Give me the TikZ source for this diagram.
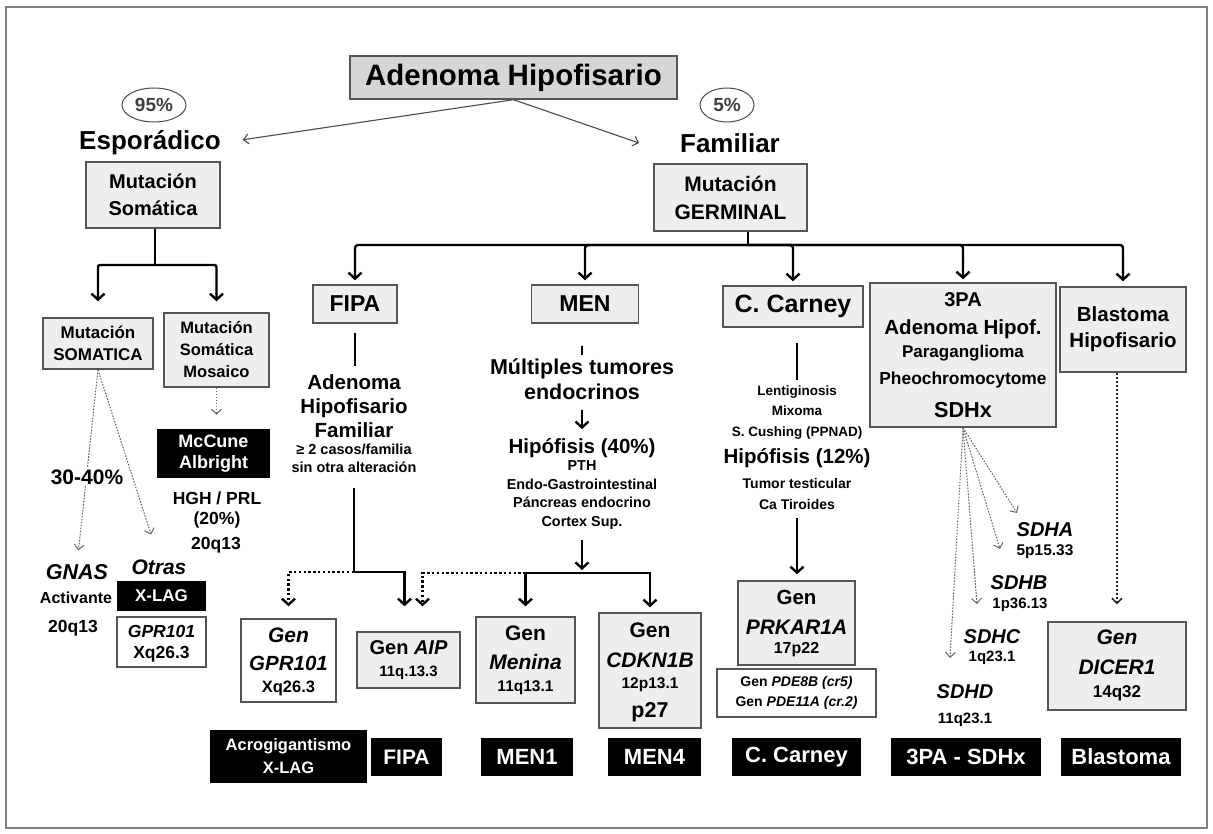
\documentclass[tikz,border=0pt]{standalone}
\usepackage{fontspec}
\setmainfont{Liberation Sans}
\usetikzlibrary{arrows.meta,shapes.geometric}
\newcommand\fsz[1]{\fontsize{#1}{#1}\selectfont}
\newcommand\fsl[2]{\fontsize{#1}{#2}\selectfont}
\definecolor{boxfill}{HTML}{EEEEEE}
\definecolor{titlefill}{HTML}{D6D6D6}
\definecolor{edge}{HTML}{555555}
\tikzset{
 frame/.style={draw=black!50, line width=1.3pt},
 bx/.style={draw=edge, line width=1.4pt, fill=boxfill, inner sep=0pt},
 wbx/.style={draw=edge, line width=1.4pt, fill=white, inner sep=0pt},
 blk/.style={fill=black, text=white, inner sep=0pt, align=center},
 t/.style={inner sep=0pt, align=center},
 oval/.style={ellipse, draw=black!70, line width=1pt, inner sep=0pt, text=black!75},
 ln/.style={line width=2.4pt},
 ar/.style={line width=2.4pt, -{Straight Barb[length=6pt,width=13pt]}},
 dar/.style={line width=2.4pt, dash pattern=on 2.4pt off 2.4pt, -{Straight Barb[length=6pt,width=13pt]}},
 thn/.style={line width=1.1pt, draw=black!70, -{Straight Barb[length=5pt,width=10pt]}},
 dthn/.style={line width=1pt, draw=black!60, dash pattern=on 1.6pt off 1.4pt, -{Straight Barb[length=5pt,width=10pt]}},
 dblk/.style={line width=1.6pt, draw=black!85, dash pattern=on 2pt off 2pt, -{Straight Barb[length=5pt,width=10pt]}},
}
\begin{document}
\begin{tikzpicture}[x=1pt,y=-1pt]
\useasboundingbox (0,0) rectangle (1213,834);
\fill[white] (0,0) rectangle (1213,834);
\draw[frame] (6,7) rectangle (1207,828);

% ---- top
\node[bx, fill=titlefill, minimum width=327pt, minimum height=43pt, font=\bfseries\fsz{29.5}] (title) at (513.5,77.5) {Adenoma Hipofisario};
\node[oval, minimum width=64pt, minimum height=34pt, font=\bfseries\fsz{19}] (p95) at (154,105) {95\%};
\node[oval, minimum width=54pt, minimum height=34pt, font=\bfseries\fsz{19}] (p5) at (727,105) {5\%};
\node[t, font=\bfseries\fsz{26}] (espo) at (150,143) {Esporádico};
\node[t, font=\bfseries\fsz{26}] (fam) at (730,143) {Familiar};
\coordinate (famtip) at (639,143);
\draw[thn, shorten >=22pt] (title.south) -- (espo.east);
\draw[thn] (title.south) -- (famtip);

% ---- sporadic branch
\node[bx, minimum width=134pt, minimum height=66pt, align=center, font=\bfseries\fsl{20}{27}] (msom) at (153,195) {Mutación\\Somática};
\node[bx, minimum width=110pt, minimum height=51pt, align=center, font=\bfseries\fsl{17}{22}] (msomat) at (98,343.5) {Mutación\\SOMATICA};
\node[bx, minimum width=105pt, minimum height=74pt, align=center, font=\bfseries\fsl{16.5}{22}] (mosaico) at (216.5,350) {Mutación\\Somática\\Mosaico};
\coordinate (j1) at (155,265);
\draw[ln] (msom.south -| j1) -- (j1);
\draw[ar, rounded corners=2pt, shorten >=16pt] (j1) -| (msomat.north);
\draw[ar, rounded corners=2pt, shorten >=11pt] (j1) -| (mosaico.north);

\node[blk, minimum width=113pt, minimum height=49pt, font=\bfseries\fsl{18}{21}] (mccune) at (213.5,453.5) {McCune\\Albright};
\draw[dthn, shorten >=14pt] (mosaico.south) -- (mosaico.south |- mccune.north);
\node[t, font=\bfseries\fsz{17.5}] (hgh) at (217,498) {HGH / PRL};
\node[t, font=\bfseries\fsz{17.5}] (hgp) at (217,520) {(20\%)};
\node[t, font=\bfseries\fsz{17.5}] (hgq) at (216,545) {20q13};

\node[t, font=\bfseries\itshape\fsz{21.5}] (gnas) at (77,572) {GNAS};
\node[t, font=\bfseries\fsz{16}] (activ) at (76,598) {Activante};
\node[t, font=\bfseries\fsz{17.5}] (gq) at (73,628) {20q13};
\node[t, font=\bfseries\itshape\fsz{21}] (otras) at (159,567) {Otras};
\node[blk, minimum width=89pt, minimum height=30pt, font=\bfseries\fsz{17}] (xlag) at (161.5,596) {X-LAG};
\node[wbx, minimum width=89pt, minimum height=50pt] (gpr) at (161.5,642) {};
\node[t, font=\bfseries\itshape\fsz{17.5}] (gprn) at (161.5,631) {GPR101};
\node[t, font=\bfseries\fsz{17.5}] (gprq) at (161.5,654) {Xq26.3};
\draw[dthn, shorten >=14pt] (msomat.south) -- (gnas.north);
\draw[dthn, shorten >=26pt] (msomat.south) -- (otras.north);
\node[t, fill=white, inner sep=2pt, font=\bfseries\fsz{21}] (pct) at (87,477) {30-40\%};

% ---- familial branch
\node[bx, minimum width=153pt, minimum height=67pt, align=center, font=\bfseries\fsl{21}{28}] (germ) at (730.5,197.5) {Mutación\\GERMINAL};
\coordinate (j2) at (748,245);
\draw[ln] (germ.south -| j2) -- (j2);

\node[bx, minimum width=84pt, minimum height=38pt, font=\bfseries\fsz{23}] (fipa) at (355,304) {FIPA};
\node[bx, minimum width=107pt, minimum height=38pt, font=\bfseries\fsz{23}] (men) at (585,304) {MEN};
\node[bx, minimum width=140pt, minimum height=41pt, font=\bfseries\fsz{25}] (carney) at (793,306.5) {C. Carney};
\node[bx, minimum width=186pt, minimum height=144pt] (tpa) at (963,355) {};
\node[bx, minimum width=126pt, minimum height=85pt, align=center, font=\bfseries\fsl{20.5}{26}] (blast) at (1123,329.5) {Blastoma\\Hipofisario};
\draw[ar, rounded corners=3pt, shorten >=4pt] (j2) -| (fipa.north);
\draw[ar, rounded corners=3pt, shorten >=4pt] (j2) -| (men.north);
\draw[ar, rounded corners=3pt, shorten >=4pt] (j2) -| (carney.north);
\draw[ar, rounded corners=3pt, shorten >=3pt] (j2) -| (tpa.north);
\draw[ar, rounded corners=3pt, shorten >=5pt] (j2) -| (blast.north);

% FIPA column
\node[t, font=\bfseries\fsl{20.5}{24}] (fad) at (354,406) {Adenoma\\Hipofisario\\Familiar};
\node[t, font=\bfseries\fsl{14.5}{17.5}] (fcas) at (354,458.5) {≥ 2 casos/familia\\sin otra alteración};
\draw[ln, shorten <=9pt, shorten >=8pt] (fipa.south) -- (fipa.south |- fad.north);
\coordinate (jf) at (354,572);
\draw[ln, shorten <=15pt] (fcas.south -| jf) -- (jf);

\node[wbx, minimum width=95pt, minimum height=83pt] (gpr2) at (288.5,660.5) {};
\node[t, font=\bfseries\itshape\fsz{21}] (gpr2a) at (288.5,635) {Gen};
\node[t, font=\bfseries\itshape\fsz{20.5}] (gpr2b) at (288.5,663) {GPR101};
\node[t, font=\bfseries\fsz{16.5}] (gpr2c) at (288.5,688) {Xq26.3};
\node[bx, minimum width=103pt, minimum height=56pt] (aip) at (408.5,660) {};
\node[t, font=\bfseries\fsz{20}] (aipa) at (408.5,648) {Gen \textit{AIP}};
\node[t, font=\bfseries\fsz{15}] (aipb) at (408.5,673) {11q.13.3};
\draw[ar, shorten >=25pt] (jf) -| ([xshift=-4pt]aip.north);
\draw[dar, shorten >=12pt] (jf) -| (gpr2.north);

% MEN column
\node[t, font=\bfseries\fsl{21.5}{25}] (mmul) at (582,379.5) {Múltiples tumores\\endocrinos};
\draw[ln, shorten <=22pt, shorten >=4pt] (mmul.north |- men.south) -- (mmul.north);
\node[t, font=\bfseries\fsz{20.5}] (mhip) at (582,448) {Hipófisis (40\%)};
\draw[ar, shorten <=10pt, shorten >=9pt] (mmul.south) -- (mhip.north);
\node[t, font=\bfseries\fsl{14.4}{18.7}] (mlist) at (582,495) {PTH\\Endo-Gastrointestinal\\Páncreas endocrino\\Cortex Sup.};
\coordinate (jm) at (582,573);
\draw[ar, shorten <=10pt, shorten >=3pt] (mlist.south -| jm) -- (jm);
\node[bx, minimum width=99pt, minimum height=86pt] (menina) at (525.5,660) {};
\node[t, font=\bfseries\fsz{21}] (menia) at (525.5,633) {Gen};
\node[t, font=\bfseries\itshape\fsz{21}] (menib) at (525.5,662) {Menina};
\node[t, font=\bfseries\fsz{15.5}] (menic) at (525.5,688) {11q13.1};
\node[bx, minimum width=102pt, minimum height=115pt] (cdkn) at (650,670.5) {};
\node[t, font=\bfseries\fsz{21}] (cdkna) at (650,630) {Gen};
\node[t, font=\bfseries\itshape\fsz{21}] (cdknb) at (650,660) {CDKN1B};
\node[t, font=\bfseries\fsz{15.5}] (cdknc) at (650,685) {12p13.1};
\node[t, font=\bfseries\fsz{21.5}] (cdknd) at (650,712) {p27};
\draw[ar, shorten >=10pt] (jm) -| (menina.north);
\draw[ar, shorten >=5pt] (jm) -| (cdkn.north);
\draw[dar, shorten >=25pt] (menina.north |- jm) -| ([xshift=14pt]aip.north);

% Carney column
\node[t, font=\bfseries\fsl{13.5}{20.5}] (cl1) at (797,412.5) {Lentiginosis\\Mixoma\\S. Cushing (PPNAD)};
\node[t, font=\bfseries\fsz{20.5}] (chip) at (797,458) {Hipófisis (12\%)};
\node[t, font=\bfseries\fsl{14}{21}] (cl2) at (797,493.5) {Tumor testicular\\Ca Tiroides};
\draw[ln, shorten <=15pt, shorten >=5pt] (cl1.north |- carney.south) -- (cl1.north);
\node[bx, minimum width=117pt, minimum height=84pt] (prk) at (796.5,623) {};
\node[t, font=\bfseries\fsz{20.5}] (prka) at (796.5,597) {Gen};
\node[t, font=\bfseries\itshape\fsz{21}] (prkb) at (796.5,627) {PRKAR1A};
\node[t, font=\bfseries\fsz{16}] (prkc) at (796.5,650) {17p22};
\draw[ar, shorten <=9pt, shorten >=6pt] (cl2.south) -- (cl2.south |- prk.north);
\node[wbx, minimum width=159pt, minimum height=48pt] (pde) at (796.5,693) {};
\node[t, font=\bfseries\fsz{14}] (pdea) at (796.5,683) {Gen \textit{PDE8B (cr5)}};
\node[t, font=\bfseries\fsz{14}] (pdeb) at (796.5,703) {Gen \textit{PDE11A (cr.2)}};

% 3PA column
\node[t, font=\bfseries\fsz{20}] (tpa1) at (963,300) {3PA};
\node[t, font=\bfseries\fsz{20.5}] (tpa2) at (963,329) {Adenoma Hipof.};
\node[t, font=\bfseries\fsz{17}] (tpa3) at (963,353) {Paraganglioma};
\node[t, font=\bfseries\fsz{17.4}] (tpa4) at (963,380) {Pheochromocytome};
\node[t, font=\bfseries\fsz{21.7}] (tpa5) at (963,410) {SDHx};
\coordinate (e1) at (1017,513);
\coordinate (e2) at (1000,549);
\coordinate (e3) at (977,604);
\coordinate (e4) at (950,658);
\draw[dthn] (tpa.south) -- (e1);
\draw[dthn] (tpa.south) -- (e2);
\draw[dthn] (tpa.south) -- (e3);
\draw[dthn] (tpa.south) -- (e4);
\node[t, font=\bfseries\itshape\fsz{20}] (sdha) at (1045,530) {SDHA};
\node[t, font=\bfseries\fsz{15.5}] (sdhaq) at (1045,552) {5p15.33};
\node[t, font=\bfseries\itshape\fsz{20}] (sdhb) at (1019,583) {SDHB};
\node[t, font=\bfseries\fsz{15}] (sdhbq) at (1020,605) {1p36.13};
\node[t, font=\bfseries\itshape\fsz{20}] (sdhc) at (992,637) {SDHC};
\node[t, font=\bfseries\fsz{15}] (sdhcq) at (992,658) {1q23.1};
\node[t, font=\bfseries\itshape\fsz{20}] (sdhd) at (965,692) {SDHD};
\node[t, font=\bfseries\fsz{15}] (sdhdq) at (965,720) {11q23.1};

% Blastoma column
\node[bx, minimum width=138pt, minimum height=88pt] (dicer) at (1117,666) {};
\node[t, font=\bfseries\itshape\fsz{21}] (dicera) at (1117,637) {Gen};
\node[t, font=\bfseries\itshape\fsz{21}] (dicerb) at (1117,667) {DICER1};
\node[t, font=\bfseries\fsz{17}] (dicerc) at (1117,693) {14q32};
\draw[dblk, shorten >=17pt] (dicer.north |- blast.south) -- (dicer.north);

% bottom labels
\node[blk, minimum width=157pt, minimum height=53pt, font=\bfseries\fsl{16.5}{23}] (lacro) at (288.5,756.5) {Acrogigantismo\\X-LAG};
\node[blk, minimum width=71pt, minimum height=38pt, font=\bfseries\fsz{21}] (lfipa) at (406.5,757) {FIPA};
\node[blk, minimum width=92pt, minimum height=38pt, font=\bfseries\fsz{22}] (lmen1) at (527,757) {MEN1};
\node[blk, minimum width=93pt, minimum height=38pt, font=\bfseries\fsz{22}] (lmen4) at (654.5,757) {MEN4};
\node[blk, minimum width=129pt, minimum height=38pt, font=\bfseries\fsz{22}] (lcar) at (796.5,757) {C. Carney};
\node[blk, minimum width=150pt, minimum height=38pt, font=\bfseries\fsz{22}] (l3pa) at (966,757) {3PA - SDHx};
\node[blk, minimum width=120pt, minimum height=38pt, font=\bfseries\fsz{22}] (lbla) at (1121,757) {Blastoma};
\end{tikzpicture}
\end{document}
